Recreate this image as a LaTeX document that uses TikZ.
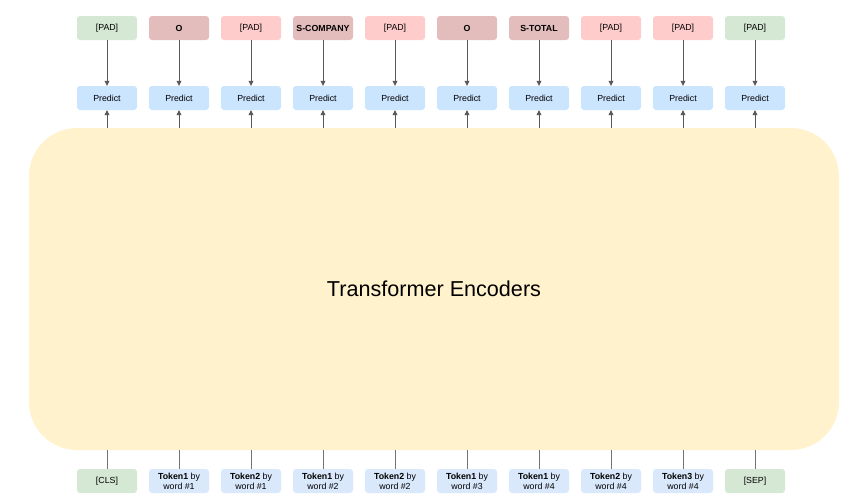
\documentclass[tikz,border=0pt]{standalone}
\usepackage{fontspec}
\setmainfont{Liberation Sans}
\usepackage{tikz}
\usetikzlibrary{positioning,arrows.meta}
\definecolor{padgreen}{HTML}{D5E8D4}
\definecolor{padred}{HTML}{FFCCCC}
\definecolor{tagred}{HTML}{E3BCBC}
\definecolor{predblue}{HTML}{CCE5FF}
\definecolor{tokblue}{HTML}{DAE8FC}
\definecolor{encyellow}{HTML}{FFF2CC}

\begin{document}
\begin{tikzpicture}[x=1pt,y=-1pt,
  box/.style={rectangle,rounded corners=3pt,minimum width=60pt,minimum height=24pt,inner sep=1pt,align=center,font=\fontsize{8.8}{10}\selectfont},
  link/.style={draw=black!65,line width=0.7pt,-{Triangle[length=5pt,width=5pt]}},
  feed/.style={draw=black!55,line width=0.7pt}]
  \useasboundingbox (0,0) rectangle (860,498);
  \node[fill=encyellow,rounded corners=48pt,minimum width=810pt,minimum height=322pt,font=\fontsize{21.6}{24}\selectfont] (enc) at (434,289) {Transformer Encoders};
  % output tags
  \foreach \i/\txt/\fc in {1/{[PAD]}/padgreen,2/\textbf{O}/tagred,3/{[PAD]}/padred,4/\textbf{S-COMPANY}/tagred,5/{[PAD]}/padred,6/\textbf{O}/tagred,7/\textbf{S-TOTAL}/tagred,8/{[PAD]}/padred,9/{[PAD]}/padred,10/{[PAD]}/padgreen}{
    \node[box,fill=\fc] (lab\i) at ({107+72*(\i-1)},28) {\txt};
    \node[box,fill=predblue] (pred\i) at ({107+72*(\i-1)},98) {Predict};
    \draw[link] (lab\i) -- (pred\i);
    \draw[link] (pred\i |- enc.north) -- (pred\i);
  }
  % input tokens
  \foreach \i/\txt/\fc in {1/{[CLS]}/padgreen,2/{\textbf{Token1} by\\word \#1}/tokblue,3/{\textbf{Token2} by\\word \#1}/tokblue,4/{\textbf{Token1} by\\word \#2}/tokblue,5/{\textbf{Token2} by\\word \#2}/tokblue,6/{\textbf{Token1} by\\word \#3}/tokblue,7/{\textbf{Token1} by\\word \#4}/tokblue,8/{\textbf{Token2} by\\word \#4}/tokblue,9/{\textbf{Token3} by\\word \#4}/tokblue,10/{[SEP]}/padgreen}{
    \node[box,fill=\fc] (tok\i) at ({107+72*(\i-1)},481) {\txt};
    \draw[feed] (tok\i) -- (tok\i |- enc.south);
  }
\end{tikzpicture}
\end{document}
